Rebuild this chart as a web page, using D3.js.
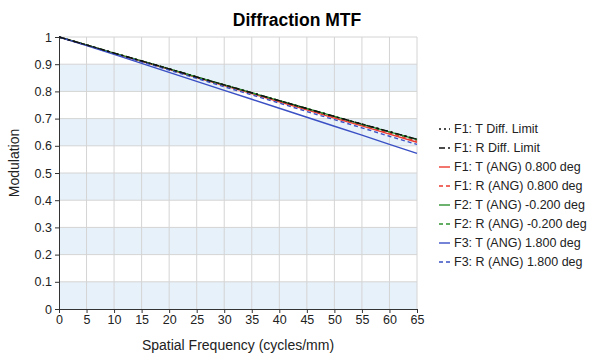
<!DOCTYPE html>
<html lang="en">
<head>
<meta charset="UTF-8">
<title>Diffraction MTF</title>
<script src="https://cdnjs.cloudflare.com/ajax/libs/d3/7.8.5/d3.min.js"></script>
<style>
    body { margin: 0; background: #fff; font-family: "Liberation Sans", Arial, sans-serif; }
    .tick text { fill: #222; font-size: 12.5px; }
    .grid line { stroke: #d4d4d4; }
</style>
</head>
<body>
<div id="chart"></div>
<script>
    // spatial frequency samples (cycles/mm)
    const freqs = [0, 5, 10, 15, 20, 25, 30, 35, 40, 45, 50, 55, 60, 65];

    const diffT = [1, 0.971, 0.941, 0.912, 0.883, 0.853, 0.824, 0.795, 0.766, 0.737, 0.708, 0.680, 0.652, 0.624];
    const diffR = [1, 0.971, 0.941, 0.912, 0.883, 0.853, 0.824, 0.795, 0.766, 0.737, 0.708, 0.680, 0.652, 0.624];
    const f1T = [1, 0.970, 0.940, 0.911, 0.881, 0.851, 0.821, 0.792, 0.762, 0.732, 0.702, 0.673, 0.643, 0.613];
    const f1R = [1, 0.970, 0.940, 0.911, 0.882, 0.852, 0.823, 0.794, 0.764, 0.735, 0.705, 0.676, 0.647, 0.617];
    const f2T = [1, 0.971, 0.941, 0.912, 0.883, 0.853, 0.824, 0.795, 0.766, 0.737, 0.708, 0.679, 0.651, 0.623];
    const f2R = [1, 0.971, 0.941, 0.912, 0.883, 0.853, 0.824, 0.795, 0.766, 0.737, 0.708, 0.679, 0.651, 0.622];
    const f3T = [1, 0.968, 0.936, 0.903, 0.870, 0.837, 0.804, 0.771, 0.738, 0.705, 0.672, 0.639, 0.605, 0.572];
    const f3R = [1, 0.970, 0.939, 0.909, 0.878, 0.848, 0.817, 0.787, 0.757, 0.726, 0.696, 0.666, 0.635, 0.605];

    const xTicks = [0, 5, 10, 15, 20, 25, 30, 35, 40, 45, 50, 55, 60, 65];
    const yTicks = [0, 0.1, 0.2, 0.3, 0.4, 0.5, 0.6, 0.7, 0.8, 0.9, 1];

    const series = [
        { name: "F1: T Diff. Limit", values: diffT, color: "#111", dash: "2,3" },
        { name: "F1: R Diff. Limit", values: diffR, color: "#111", dash: "6,3,2,3" },
        { name: "F1: T (ANG) 0.800 deg", values: f1T, color: "#ec3a30", dash: null },
        { name: "F1: R (ANG) 0.800 deg", values: f1R, color: "#ec3a30", dash: "4,3" },
        { name: "F2: T (ANG) -0.200 deg", values: f2T, color: "#2f9232", dash: null },
        { name: "F2: R (ANG) -0.200 deg", values: f2R, color: "#2f9232", dash: "4,3" },
        { name: "F3: T (ANG) 1.800 deg", values: f3T, color: "#3a50c4", dash: null },
        { name: "F3: R (ANG) 1.800 deg", values: f3R, color: "#3a50c4", dash: "4,3" }
    ];

    const W = 591, H = 353;
    const margin = { top: 37, right: 174, bottom: 44, left: 59 };
    const width = W - margin.left - margin.right;
    const height = H - margin.top - margin.bottom;

    const svg = d3.select("#chart").append("svg")
        .attr("width", W)
        .attr("height", H);

    svg.append("text")
        .attr("x", 297)
        .attr("y", 26)
        .attr("text-anchor", "middle")
        .style("font-size", "17.5px")
        .style("font-weight", "bold")
        .text("Diffraction MTF");

    const g = svg.append("g")
        .attr("transform", `translate(${margin.left},${margin.top})`);

    const x = d3.scaleLinear().domain([0, 65]).range([0, width]);
    const y = d3.scaleLinear().domain([0, 1]).range([height, 0]);

    // alternating bands
    const bands = yTicks.slice(0, -1).filter((d, i) => i % 2 === 0);
    g.selectAll(".band")
        .data(bands)
        .enter().append("rect")
        .attr("class", "band")
        .attr("x", 0)
        .attr("width", width)
        .attr("y", d => y(d + 0.1))
        .attr("height", d => y(d) - y(d + 0.1))
        .attr("fill", "#e7f1fa");

    // grid
    g.append("g").attr("class", "grid")
        .selectAll("line")
        .data(xTicks.slice(1))
        .enter().append("line")
        .attr("x1", d => x(d)).attr("x2", d => x(d))
        .attr("y1", 0).attr("y2", height);
    g.append("g").attr("class", "grid")
        .selectAll("line")
        .data(yTicks.slice(1))
        .enter().append("line")
        .attr("x1", 0).attr("x2", width)
        .attr("y1", d => y(d)).attr("y2", d => y(d));

    // curves, diffraction limits drawn on top
    const line = d3.line()
        .x((d, i) => x(freqs[i]))
        .y(d => y(d));

    const order = [2, 3, 4, 5, 6, 7, 0, 1];
    order.forEach(k => {
        const s = series[k];
        g.append("path")
            .datum(s.values)
            .attr("fill", "none")
            .attr("stroke", s.color)
            .attr("stroke-width", 1.4)
            .attr("stroke-dasharray", s.dash)
            .attr("d", line);
    });

    // axes
    const xAxis = g.append("g")
        .attr("transform", `translate(0,${height})`)
        .call(d3.axisBottom(x).tickValues(xTicks).tickSize(4).tickPadding(2));
    const yAxis = g.append("g")
        .call(d3.axisLeft(y).tickValues(yTicks).tickSize(4).tickPadding(3)
            .tickFormat(d3.format("~g")));
    [xAxis, yAxis].forEach(a => {
        a.select(".domain").attr("stroke", "#333");
        a.selectAll(".tick line").attr("stroke", "#333");
    });

    svg.append("text")
        .attr("x", 238)
        .attr("y", 350)
        .attr("text-anchor", "middle")
        .style("font-size", "14px")
        .style("fill", "#222")
        .text("Spatial Frequency (cycles/mm)");

    svg.append("text")
        .attr("transform", "translate(19,163) rotate(-90)")
        .attr("text-anchor", "middle")
        .style("font-size", "14px")
        .style("fill", "#222")
        .text("Modulation");

    // legend
    const legend = svg.append("g")
        .attr("transform", "translate(439,129)");
    const item = legend.selectAll(".item")
        .data(series)
        .enter().append("g")
        .attr("transform", (d, i) => `translate(0,${i * 19})`);
    item.append("line")
        .attr("x1", 0).attr("x2", 11)
        .attr("stroke", d => d.color)
        .attr("stroke-width", 1.4)
        .attr("stroke-dasharray", d => d.dash);
    item.append("text")
        .attr("x", 15)
        .attr("dy", "0.35em")
        .style("font-size", "12.5px")
        .style("fill", "#222")
        .text(d => d.name);
</script>
</body>
</html>
